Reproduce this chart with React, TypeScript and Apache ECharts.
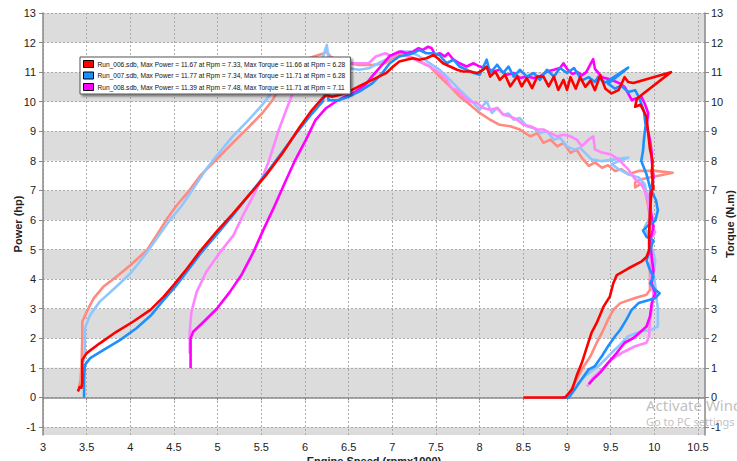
import React, { useEffect, useRef } from "react";
import * as echarts from "echarts";

// ---- axis ticks ----
const X_TICKS = [3, 3.5, 4, 4.5, 5, 5.5, 6, 6.5, 7, 7.5, 8, 8.5, 9, 9.5, 10, 10.5];
const Y_TICKS = [-1, 0, 1, 2, 3, 4, 5, 6, 7, 8, 9, 10, 11, 12, 13];
const X_MIN = 3;
const X_MAX = 10.58;
const Y_MIN = -1.27;
const Y_MAX = 13;
const BANDS = [[12, 13], [10, 11], [8, 9], [6, 7], [4, 5], [2, 3], [0, 1], [-2, -1]];

// ---- legend names ----
const NAME_006 = "Run_006.sdb, Max Power = 11.67 at Rpm = 7.33, Max Torque = 11.66 at Rpm = 6.28";
const NAME_007 = "Run_007.sdb, Max Power = 11.77 at Rpm = 7.34, Max Torque = 11.71 at Rpm = 6.28";
const NAME_008 = "Run_008.sdb, Max Power = 11.39 at Rpm = 7.48, Max Torque = 11.71 at Rpm = 7.11";

// ---- Run_006 power (hp) [rpm x1000, hp] ----
const run006Power = [
  [3.40, 0.2], [3.42, 0.35], [3.44, 0.33], [3.45, 0.5], [3.45, 1.27], [3.5, 1.5], [3.65, 1.83], [3.84, 2.22],
  [4.03, 2.56], [4.23, 2.96], [4.38, 3.4], [4.51, 3.85], [4.65, 4.36], [4.8, 4.95], [5.0, 5.65], [5.17, 6.2],
  [5.36, 6.85], [5.55, 7.5], [5.74, 8.25], [5.93, 9.1], [6.08, 9.72], [6.2, 10.12], [6.25, 10.23], [6.31, 10.17],
  [6.39, 10.23], [6.46, 10.29], [6.54, 10.4], [6.65, 10.57], [6.77, 10.74], [6.88, 10.9], [6.93, 10.97],
  [7.01, 11.19], [7.08, 11.36], [7.16, 11.42], [7.24, 11.47], [7.31, 11.42], [7.39, 11.47], [7.47, 11.58],
  [7.52, 11.47], [7.58, 11.3], [7.66, 11.19], [7.74, 11.08], [7.81, 11.02], [7.89, 11.02], [7.97, 10.97],
  [8.04, 11.08], [8.08, 11.19], [8.12, 10.85], [8.18, 11.02], [8.23, 10.74], [8.29, 10.91], [8.35, 10.52],
  [8.43, 10.85], [8.48, 10.52], [8.54, 10.8], [8.6, 10.46], [8.66, 10.85], [8.73, 10.85], [8.79, 10.52],
  [8.85, 10.85], [8.9, 10.4], [8.96, 10.74], [9.0, 10.4], [9.04, 10.83], [9.1, 10.44], [9.15, 10.83],
  [9.21, 10.5], [9.27, 10.72], [9.32, 10.39], [9.38, 10.89], [9.44, 10.44], [9.51, 10.28], [9.59, 10.39],
  [9.66, 10.83], [9.7, 10.67], [9.76, 10.63], [10.19, 11.0], [9.85, 10.22], [9.8, 10.1], [9.78, 9.83],
  [9.84, 9.9], [9.91, 9.5], [9.93, 8.94], [9.95, 8.39], [9.98, 8.0], [9.97, 7.61], [9.99, 7.06],
  [9.97, 6.99], [9.95, 6.32], [9.94, 5.54], [9.94, 4.98], [9.91, 4.75], [9.85, 4.59], [9.7, 4.36],
  [9.57, 4.14], [9.53, 3.86], [9.49, 3.41], [9.42, 3.08], [9.34, 2.52], [9.28, 2.18], [9.23, 1.73],
  [9.17, 1.17], [9.11, 0.73], [9.06, 0.28], [8.98, 0], [8.5, 0],
];

// ---- Run_007 power (hp) ----
const run007Power = [
  [3.47, 0], [3.47, 0.6], [3.48, 1.1], [3.54, 1.33], [3.69, 1.6], [3.88, 1.94], [4.07, 2.34], [4.24, 2.79],
  [4.38, 3.29], [4.53, 3.8], [4.66, 4.3], [4.8, 4.85], [5.0, 5.55], [5.17, 6.15], [5.36, 6.85], [5.55, 7.55],
  [5.74, 8.3], [5.93, 9.05], [6.08, 9.6], [6.2, 10.0], [6.25, 10.51], [6.27, 10.05], [6.39, 10.06],
  [6.5, 10.17], [6.62, 10.34], [6.77, 10.62], [6.88, 10.95], [6.97, 11.3], [7.08, 11.53], [7.24, 11.64],
  [7.31, 11.75], [7.39, 11.64], [7.47, 11.64], [7.54, 11.58], [7.62, 11.3], [7.7, 11.42], [7.77, 11.19],
  [7.85, 11.08], [7.93, 10.97], [8.0, 10.91], [8.08, 11.42], [8.12, 10.97], [8.2, 11.25], [8.27, 10.97],
  [8.33, 11.19], [8.39, 10.85], [8.46, 11.08], [8.54, 10.85], [8.62, 10.97], [8.69, 10.74], [8.77, 11.08],
  [8.85, 10.85], [8.92, 11.14], [9.0, 10.97], [9.08, 11.14], [9.17, 10.72], [9.25, 10.83], [9.32, 10.67],
  [9.36, 10.85], [9.4, 10.72], [9.44, 10.65], [9.7, 11.15], [9.47, 10.61], [9.55, 10.44], [9.62, 10.55],
  [9.7, 10.33], [9.78, 10.39], [9.82, 10.17], [9.85, 9.94], [9.88, 9.7], [9.9, 9.2], [9.88, 8.7],
  [9.87, 8.33], [9.85, 8.0], [9.91, 7.55], [9.95, 7.1], [10.02, 6.66], [10.04, 6.32], [10.01, 5.98],
  [9.93, 5.82], [9.87, 5.65], [9.91, 5.43], [9.99, 5.31], [9.95, 4.98], [9.91, 4.64], [9.95, 4.31],
  [9.99, 4.08], [9.95, 3.86], [10.01, 3.64], [10.06, 3.52], [10.01, 3.36], [9.95, 3.3], [9.82, 3.19],
  [9.74, 2.96], [9.68, 2.63], [9.61, 2.29], [9.55, 2.07], [9.47, 1.73], [9.4, 1.4], [9.32, 1.06],
  [9.25, 0.95], [9.17, 0.62], [9.09, 0.28], [9.02, 0], [8.95, 0],
];

// ---- Run_008 power (hp) ----
const run008Power = [
  [4.69, 0.99], [4.69, 1.5], [4.69, 2.0], [4.72, 2.22], [4.84, 2.56], [4.99, 3.0], [5.14, 3.57], [5.27, 4.13],
  [5.41, 4.92], [5.52, 5.65], [5.64, 6.4], [5.76, 7.2], [5.88, 7.98], [6.01, 8.71], [6.12, 9.38], [6.24, 9.78],
  [6.35, 10.0], [6.46, 10.17], [6.58, 10.34], [6.69, 10.57], [6.78, 10.9], [6.87, 11.2], [6.97, 11.55],
  [7.04, 11.64], [7.1, 11.7], [7.16, 11.64], [7.24, 11.7], [7.3, 11.81], [7.35, 11.75], [7.41, 11.86],
  [7.45, 11.81], [7.49, 11.58], [7.54, 11.64], [7.6, 11.53], [7.64, 11.64], [7.7, 11.42], [7.77, 11.3],
  [7.85, 11.19], [7.93, 11.3], [8.0, 11.19], [8.08, 11.14], [8.16, 11.02], [8.23, 11.08], [8.31, 10.91],
  [8.39, 10.97], [8.46, 10.8], [8.54, 10.85], [8.62, 10.8], [8.69, 10.85], [8.77, 11.02], [8.85, 11.08],
  [8.92, 11.14], [8.96, 11.3], [9.0, 11.11], [9.06, 10.94], [9.12, 11.0], [9.17, 10.89], [9.22, 11.0],
  [9.27, 11.28], [9.3, 11.44], [9.32, 11.11], [9.4, 10.83], [9.5, 10.75], [9.61, 10.61], [9.66, 10.5],
  [9.7, 10.28], [9.74, 10.06], [9.8, 10.12], [9.85, 10.17], [9.89, 9.94], [9.93, 9.61], [9.91, 9.2],
  [9.95, 8.72], [9.97, 8.28], [9.97, 8.0], [9.99, 7.44], [9.95, 6.88], [9.96, 6.3], [9.99, 5.76],
  [9.95, 5.31], [9.97, 4.75], [9.99, 4.3], [9.97, 3.86], [10.01, 3.52], [9.97, 3.19], [9.95, 2.74],
  [9.91, 2.4], [9.85, 2.24], [9.76, 2.01], [9.66, 1.85], [9.57, 1.51], [9.47, 1.17], [9.38, 0.84],
  [9.3, 0.62], [9.25, 0.45],
];

// ---- Run_006 torque (N.m) ----
const run006Torque = [
  [3.41, 0.3], [3.43, 0.6], [3.44, 1.0], [3.45, 2.0], [3.45, 2.56], [3.5, 2.9], [3.58, 3.35], [3.69, 3.74],
  [3.84, 4.08], [4.0, 4.47], [4.19, 4.98], [4.3, 5.48], [4.42, 6.04], [4.53, 6.49], [4.66, 6.94], [4.8, 7.5],
  [4.98, 8.03], [5.17, 8.6], [5.36, 9.16], [5.51, 9.61], [5.63, 10.06], [5.74, 10.62], [5.86, 11.13],
  [5.97, 11.36], [6.1, 11.53], [6.22, 11.64], [6.25, 11.7], [6.29, 11.53], [6.39, 11.36], [6.5, 11.3],
  [6.62, 11.24], [6.77, 11.24], [6.92, 11.3], [6.97, 11.42], [7.08, 11.58], [7.2, 11.53], [7.31, 11.36],
  [7.43, 11.19], [7.54, 10.85], [7.66, 10.52], [7.77, 10.18], [7.89, 9.9], [8.0, 9.62], [8.12, 9.39],
  [8.23, 9.22], [8.35, 9.17], [8.46, 9.06], [8.58, 8.83], [8.66, 8.94], [8.73, 8.61], [8.81, 8.72],
  [8.89, 8.49], [8.96, 8.61], [9.04, 8.27], [9.11, 8.38], [9.17, 8.1], [9.25, 7.83], [9.32, 7.95],
  [9.4, 7.77], [9.47, 7.85], [9.55, 7.66], [9.62, 7.72], [9.7, 7.55], [9.82, 7.66], [10.01, 7.66],
  [10.21, 7.6], [9.85, 7.38], [9.78, 7.27], [9.78, 7.1], [9.87, 7.27], [9.91, 6.77], [9.95, 6.1],
  [9.95, 5.43], [9.97, 4.75], [9.95, 4.31], [9.95, 3.64], [9.91, 3.47], [9.78, 3.36], [9.61, 3.19],
  [9.53, 2.96], [9.47, 2.63], [9.4, 2.18], [9.34, 1.85], [9.27, 1.4], [9.17, 0.95], [9.09, 0.5], [9.02, 0.11],
];

// ---- Run_007 torque (N.m) ----
const run007Torque = [
  [3.47, 1.2], [3.48, 1.8], [3.48, 2.34], [3.54, 2.79], [3.65, 3.24], [3.82, 3.69], [4.0, 4.19], [4.15, 4.75],
  [4.3, 5.37], [4.45, 5.99], [4.59, 6.49], [4.72, 7.06], [4.87, 7.73], [4.98, 8.14], [5.17, 8.82], [5.36, 9.4],
  [5.51, 9.89], [5.67, 10.51], [5.78, 10.96], [5.89, 11.24], [6.05, 11.36], [6.2, 11.47], [6.25, 11.92],
  [6.27, 11.41], [6.39, 11.3], [6.5, 11.13], [6.62, 11.08], [6.73, 11.13], [6.84, 11.3], [6.96, 11.47],
  [7.08, 11.7], [7.2, 11.7], [7.31, 11.53], [7.43, 11.3], [7.54, 11.08], [7.66, 10.74], [7.77, 10.4],
  [7.89, 10.07], [8.0, 9.73], [8.08, 10.01], [8.14, 9.62], [8.2, 9.79], [8.27, 9.56], [8.33, 9.6],
  [8.39, 9.39], [8.46, 9.45], [8.54, 9.17], [8.62, 9.1], [8.69, 8.94], [8.77, 9.0], [8.85, 8.72],
  [8.92, 8.78], [9.0, 8.49], [9.08, 8.38], [9.15, 8.44], [9.28, 8.05], [9.4, 7.99], [9.7, 8.11],
  [9.51, 7.89], [9.59, 7.72], [9.7, 7.55], [9.82, 7.44], [9.89, 7.21], [9.93, 6.66], [9.95, 6.1],
  [9.89, 5.76], [9.93, 5.5], [9.97, 5.09], [10.01, 4.64], [9.99, 4.19], [10.01, 3.8], [10.02, 3.41],
  [10.04, 3.02], [10.04, 2.4], [9.97, 2.29], [9.85, 2.24], [9.7, 2.07], [9.59, 1.73], [9.51, 1.51],
  [9.44, 1.29], [9.36, 1.06], [9.28, 0.89], [9.21, 0.73], [9.13, 0.5], [9.06, 0.17], [9.02, 0],
];

// ---- Run_008 torque (N.m) ----
const run008Torque = [
  [4.68, 1.49], [4.68, 2.22], [4.7, 2.9], [4.76, 3.57], [4.87, 4.25], [5.03, 4.92], [5.18, 5.48], [5.29, 6.16],
  [5.41, 6.83], [5.52, 7.5], [5.59, 8.03], [5.7, 9.05], [5.8, 9.84], [5.89, 10.51], [6.01, 10.96],
  [6.12, 11.19], [6.27, 11.24], [6.43, 11.3], [6.58, 11.3], [6.73, 11.3], [6.81, 11.53], [6.92, 11.64],
  [7.0, 11.53], [7.07, 11.7], [7.16, 11.55], [7.24, 11.45], [7.31, 11.36], [7.43, 11.19], [7.54, 10.97],
  [7.62, 10.74], [7.68, 10.46], [7.74, 10.4], [7.81, 10.18], [7.89, 10.01], [7.97, 9.96], [8.04, 9.79],
  [8.12, 9.73], [8.2, 9.79], [8.27, 9.56], [8.35, 9.5], [8.43, 9.39], [8.5, 9.22], [8.58, 9.17],
  [8.66, 9.06], [8.73, 9.06], [8.81, 8.94], [8.89, 8.83], [8.96, 8.88], [9.04, 8.83], [9.11, 8.72],
  [9.17, 8.5], [9.25, 8.72], [9.3, 8.83], [9.32, 8.39], [9.4, 8.28], [9.5, 8.22], [9.59, 8.05],
  [9.66, 7.83], [9.7, 7.72], [9.78, 7.38], [9.85, 7.2], [9.89, 6.99], [9.93, 6.6], [9.95, 6.1],
  [9.97, 5.8], [10.01, 5.59], [9.97, 5.4], [9.95, 4.98], [9.97, 4.4], [9.95, 3.97], [9.99, 3.52],
  [9.97, 2.96], [9.95, 2.63], [9.94, 2.07], [9.91, 1.85], [9.78, 1.73], [9.63, 1.51], [9.51, 1.29],
  [9.4, 0.95], [9.3, 0.67], [9.25, 0.45], [9.23, 0.37],
];

const FONT = "Liberation Sans, Arial, sans-serif";

export default function App() {
  const ref = useRef<HTMLDivElement>(null);

  useEffect(() => {
    if (!ref.current) return;
    const chart = echarts.init(ref.current, null, { renderer: "svg" });

    const lineSeries = (name: string, data: number[][], color: string, yIdx: number, width: number) => ({
      type: "line",
      name,
      data,
      yAxisIndex: yIdx,
      showSymbol: false,
      symbol: "none",
      silent: true,
      z: 2,
      lineStyle: { color, width, join: "round" },
      itemStyle: { color },
    });

    const axisLabelStyle = { color: "#222", fontSize: 11, fontFamily: FONT };
    const axisLineStyle = { show: true, lineStyle: { color: "#8a8a8a", width: 1.5 } };
    const nameStyle = { fontSize: 11, fontWeight: "bold", color: "#222", fontFamily: FONT };

    chart.setOption({
      animation: false,
      textStyle: { fontFamily: FONT },
      grid: { left: 43, right: 32, top: 13, bottom: 26, containLabel: false, outerBoundsMode: "none" },
      legend: {
        show: true,
        data: [NAME_006, NAME_007, NAME_008],
        orient: "vertical",
        left: 80,
        top: 57,
        padding: [3, 5, 3, 3],
        itemGap: 3.5,
        itemWidth: 10,
        itemHeight: 7,
        icon: "rect",
        itemStyle: { borderColor: "#000", borderWidth: 1 },
        textStyle: { fontSize: 6.6, color: "#111", fontFamily: FONT, padding: [0, 0, 0, -1] },
        backgroundColor: "#fff",
        borderColor: "#555",
        borderWidth: 1,
        shadowColor: "rgba(0,0,0,0.45)",
        shadowBlur: 2,
        shadowOffsetX: 2,
        shadowOffsetY: 2,
        selectedMode: false,
      },
      xAxis: {
        type: "value",
        min: X_MIN,
        max: X_MAX,
        z: 1,
        name: "Engine Speed (rpmx1000)",
        nameLocation: "middle",
        nameGap: 20,
        nameMoveOverlap: false,
        nameTextStyle: nameStyle,
        axisLine: axisLineStyle,
        axisTick: { show: true, length: 3, lineStyle: { color: "#8a8a8a" }, customValues: X_TICKS },
        axisLabel: { ...axisLabelStyle, margin: 6, customValues: X_TICKS },
        splitLine: { show: true, lineStyle: { color: "#aaaaaa", type: [2, 2], width: 1 } },
      },
      yAxis: [
        {
          type: "value",
          min: Y_MIN,
          max: Y_MAX,
          z: 1,
          name: "Power (hp)",
          nameLocation: "middle",
          nameRotate: 90,
          nameGap: 20,
          nameMoveOverlap: false,
          nameTextStyle: nameStyle,
          axisLine: axisLineStyle,
          axisTick: { show: true, length: 4, lineStyle: { color: "#8a8a8a" }, customValues: Y_TICKS },
          axisLabel: { ...axisLabelStyle, margin: 7, customValues: Y_TICKS },
          splitLine: { show: true, lineStyle: { color: "#aaaaaa", type: [2, 2], width: 1 } },
        },
        {
          type: "value",
          min: Y_MIN,
          max: Y_MAX,
          z: 1,
          position: "right",
          name: "Torque (N.m)",
          nameLocation: "middle",
          nameRotate: 90,
          nameGap: 19,
          nameMoveOverlap: false,
          nameTextStyle: nameStyle,
          axisLine: axisLineStyle,
          axisTick: { show: true, length: 4, lineStyle: { color: "#8a8a8a" }, customValues: Y_TICKS },
          axisLabel: { ...axisLabelStyle, margin: 6, customValues: Y_TICKS },
          splitLine: { show: false },
        },
      ],
      series: [
        {
          type: "custom",
          name: "bands",
          silent: true,
          z: 0,
          data: BANDS,
          renderItem: (params: any, api: any) => {
            const lo = Math.max(api.value(0), Y_MIN);
            const hi = Math.min(api.value(1), Y_MAX);
            const p0 = api.coord([X_MIN, hi]);
            const p1 = api.coord([X_MAX, lo]);
            return {
              type: "rect",
              shape: { x: p0[0], y: p0[1], width: p1[0] - p0[0], height: p1[1] - p0[1] },
              style: { fill: "#dcdcdc" },
            };
          },
        },
        lineSeries("t006", run006Torque, "#ff8a80", 1, 2.6),
        lineSeries("t007", run007Torque, "#8fc6ff", 1, 2.6),
        lineSeries("t008", run008Torque, "#ff85ff", 1, 2.6),
        lineSeries(NAME_008, run008Power, "#ff00ff", 0, 2.6),
        lineSeries(NAME_007, run007Power, "#1e8fff", 0, 2.6),
        lineSeries(NAME_006, run006Power, "#ff0000", 0, 2.6),
      ],
      graphic: [
        {
          type: "text",
          left: 646,
          top: 397,
          silent: true,
          z: 100,
          style: { text: "Activate Windows", fontSize: 15, fill: "rgba(170,170,170,0.75)", fontFamily: "Noto Sans, sans-serif" },
        },
        {
          type: "text",
          left: 646,
          top: 416,
          silent: true,
          z: 100,
          style: { text: "Go to PC settings to activate Windows.", fontSize: 11, fill: "rgba(170,170,170,0.75)", fontFamily: "Noto Sans, sans-serif" },
        },
      ],
    });

    return () => chart.dispose();
  }, []);

  return (
    <div
      ref={ref}
      style={{ position: "fixed", left: 0, top: 0, width: 737, height: 461, background: "#fff" }}
    />
  );
}
